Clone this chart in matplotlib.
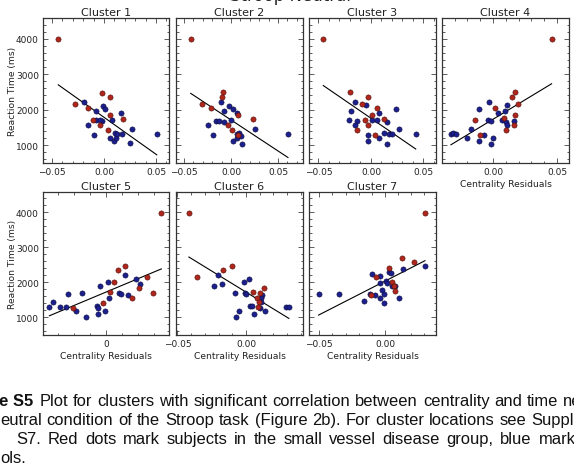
import matplotlib
matplotlib.use("Agg")
import matplotlib.pyplot as plt
from matplotlib.ticker import MultipleLocator, AutoMinorLocator, FuncFormatter

plt.rcParams["font.family"] = "DejaVu Sans"

# Centrality residuals (x), reaction time in ms (rt), svd: 1 = small vessel disease, 0 = control
c1_x = [-0.044, -0.028, -0.015, -0.019, -0.008, -0.015, -0.011, -0.008, -0.0035, -0.0096,
        -0.0019, -0.0019, -0.004, -0.0007, 0.001, 0.0058, 0.0055, 0.0077, 0.0036, 0.0183,
        0.016, 0.011, 0.0058, 0.0099, 0.012, 0.0128, 0.017, 0.027, 0.025, 0.0507]
c1_rt = [4000, 2160, 2040, 2220, 1950, 1570, 1700, 1700, 1560, 1290,
         2480, 1690, 1710, 2110, 2020, 2360, 1850, 1720, 1420, 1745,
         1905, 1340, 1200, 1110, 1210, 1300, 1310, 1450, 1050, 1310]
c1_svd = [1, 1, 1, 0, 0, 0, 1, 0, 1, 0, 1, 0, 0, 0, 0, 1, 1, 0, 1, 1, 0, 0, 0, 0, 0, 0, 0, 0, 0, 0]

c2_x = [-0.0429, -0.0305, -0.0216, -0.0248, -0.0195, -0.016, -0.0131, -0.0088, -0.0099, -0.0106,
        -0.0071, -0.0074, -0.0035, -0.0024, -0.0003, 0.0014, 0.0021, 0.006, 0.0071, 0.0025,
        0.006, 0.0067, 0.0088, 0.0103, 0.0114, 0.0071, 0.0231, 0.0252, 0.0606]
c2_rt = [4000, 2160, 2040, 1570, 1290, 1690, 1690, 2490, 2360, 2225,
         1960, 1650, 1560, 2110, 1710, 1420, 2020, 1905, 1850, 1120,
         1200, 1310, 1330, 1260, 1040, 1280, 1745, 1450, 1310]
c2_svd = [1, 1, 1, 0, 0, 0, 0, 1, 1, 0, 0, 0, 1, 0, 0, 1, 0, 0, 1, 0, 0, 0, 0, 0, 0, 1, 1, 0, 0]

c3_x = [-0.0454, -0.0203, -0.0025, -0.0083, -0.0155, -0.005, -0.0187, 0.006, 0.0076, 0.0238,
        0.0013, 0.0124, -0.0057, -0.021, -0.0136, 0.0007, 0.0057, -0.0029, -0.015, -0.013,
        0.0152, 0.0264, -0.0031, 0.0038, 0.0121, 0.0174, 0.0203, 0.0076, -0.0031, 0.0152, 0.0426]
c3_rt = [4000, 2490, 2360, 2160, 2225, 2120, 1960, 2040, 1905, 2020,
         1850, 1745, 1720, 1710, 1680, 1710, 1720, 1560, 1570, 1420,
         1640, 1450, 1290, 1290, 1330, 1310, 1310, 1200, 1120, 1040, 1310]
c3_svd = [1, 1, 1, 1, 0, 0, 0, 1, 0, 0, 1, 1, 1, 0, 0, 0, 0, 1, 0, 1, 0, 0, 0, 1, 0, 0, 0, 0, 0, 0, 0]

c4_x = [0.0458, 0.017, 0.0148, 0.0195, -0.0034, 0.0107, -0.0107, 0.0018, 0.0094, 0.0039,
        0.0083, 0.0174, -0.0141, -0.0036, -0.0016, 0.0068, 0.0099, 0.0107, 0.0167, 0.0167,
        0.0102, -0.0172, -0.0328, -0.031, -0.0292, -0.0099, -0.0068, -0.0201, -0.0002, -0.0109, -0.0013]
c4_rt = [4000, 2490, 2360, 2160, 2225, 2120, 2020, 2040, 1960, 1905,
         1755, 1850, 1720, 1720, 1680, 1710, 1640, 1570, 1690, 1560,
         1420, 1450, 1310, 1330, 1310, 1290, 1290, 1200, 1200, 1120, 1040]
c4_svd = [1, 1, 1, 1, 0, 0, 0, 1, 0, 0, 1, 1, 1, 0, 0, 0, 0, 0, 0, 1, 1, 0, 0, 0, 0, 1, 0, 0, 0, 0, 0]

c5_x = [0.0346, 0.0075, 0.0121, 0.0119, 0.0048, 0.0011, -0.0036, 0.0188, 0.0254, 0.0215,
        0.0204, 0.0027, 0.0021, 0.0081, 0.0092, 0.0135, 0.016, 0.0294, -0.0152, -0.0238,
        -0.0333, -0.0354, -0.0288, -0.0248, -0.0206, -0.0186, -0.0054, -0.0052, -0.0021, -0.005,
        -0.0004, -0.0125]
c5_rt = [3990, 2340, 2470, 2205, 2020, 2000, 1895, 2110, 2150, 1945,
         1840, 1735, 1545, 1690, 1680, 1640, 1545, 1690, 1700, 1680,
         1425, 1285, 1290, 1290, 1270, 1190, 1330, 1270, 1405, 1100,
         1180, 1015]
c5_svd = [1, 1, 1, 0, 1, 0, 0, 0, 1, 0, 1, 1, 0, 0, 0, 0, 1, 1, 0, 0, 0, 0, 0, 0, 1, 0, 0, 0, 1, 0, 0, 0]

c6_x = [-0.0416, -0.0358, -0.0167, -0.0101, -0.0201, 0.0019, -0.0014, -0.0177, -0.0232, -0.0083,
        -0.0005, 0.0002, 0.0048, 0.0133, 0.0104, 0.0118, 0.0111, 0.008, 0.0091, 0.0109,
        0.0026, 0.0046, 0.0089, 0.0101, 0.014, -0.0049, 0.0055, -0.007, 0.0292, 0.0312]
c6_rt = [3990, 2150, 2340, 2470, 2205, 2110, 2020, 1950, 1895, 1690,
         1710, 1680, 1735, 1840, 1690, 1640, 1545, 1545, 1425, 1440,
         1330, 1330, 1300, 1270, 1180, 1180, 1100, 1015, 1290, 1290]
c6_svd = [1, 1, 1, 1, 0, 0, 0, 0, 0, 0, 0, 0, 1, 1, 1, 0, 0, 1, 1, 0, 0, 0, 1, 0, 0, 0, 0, 0, 0, 0]

c7_x = [0.0304, 0.0132, 0.0218, 0.0304, 0.0135, 0.003, 0.003, 0.0043, -0.0101, -0.0071,
        -0.004, -0.0038, 0.0008, 0.0018, 0.0053, 0.0053, 0.0068, 0.0074, 0.0076, -0.0021,
        -0.0008, -0.0116, -0.0104, -0.0078, -0.0038, 0.0109, -0.0162, -0.001, -0.0505, -0.0352]
c7_rt = [3990, 2705, 2590, 2470, 2395, 2420, 2290, 2270, 2235, 2140,
         2190, 1990, 2045, 1990, 2020, 1895, 1885, 1885, 1755, 1775,
         1660, 1680, 1640, 1640, 1555, 1555, 1480, 1415, 1660, 1660]
c7_svd = [1, 1, 1, 0, 0, 1, 0, 0, 0, 1, 0, 0, 0, 0, 1, 0, 1, 0, 1, 0, 0, 0, 1, 0, 0, 0, 0, 0, 0, 0]

# Regression line: reaction time at the smallest and at the largest residual
c1_fit = [2700, 727]
c2_fit = [2460, 650]
c3_fit = [2680, 890]
c4_fit = [1010, 2730]
c5_fit = [1045, 2385]
c6_fit = [2725, 970]
c7_fit = [1065, 2620]

titles = ["Cluster 1", "Cluster 2", "Cluster 3", "Cluster 4", "Cluster 5", "Cluster 6", "Cluster 7"]
suptitle = "Stroop Neutral"
xlabel = "Centrality Residuals"
ylabel = "Reaction Time (ms)"

# Caption lines as they sit in the (cropped) page
cap_bold = "Figure S5"
cap_line1 = "Plot for clusters with significant correlation between centrality and time needed"
cap_line2 = "eutral condition of the Stroop task (Figure 2b). For cluster locations see Supplementary"
cap_line3 = "S7. Red dots mark subjects in the small vessel disease group, blue marks"
cap_line4 = "ols."

# Figure, sized in pixels
W, H = 574, 464
fig = plt.figure(figsize=(W / 100, H / 100), dpi=100)


def px_rect(l, t, r, b):
    return [l / W, 1 - b / H, (r - l) / W, (b - t) / H]


def res_fmt(v, pos):
    return ("%.2f" % (round(v, 4) + 0.0)).replace("-", "\u2212")


def res_fmt_short(v, pos):
    return ("%g" % (round(v, 4) + 0.0)).replace("-", "\u2212")


RED = "#b0261c"
BLUE = "#1c1f8e"
TXT = "#222222"

cols = [(43, 169), (176, 303), (309, 436), (442, 569)]
row1 = (19, 164)
row2 = (193, 336)

panels = [
    (c1_x, c1_rt, c1_svd, c1_fit, cols[0], row1, (-0.0587, 0.0625), res_fmt),
    (c2_x, c2_rt, c2_svd, c2_fit, cols[1], row1, (-0.0585, 0.0766), res_fmt),
    (c3_x, c3_rt, c3_svd, c3_fit, cols[2], row1, (-0.059, 0.0619), res_fmt),
    (c4_x, c4_rt, c4_svd, c4_fit, cols[3], row1, (-0.0398, 0.0594), res_fmt),
    (c5_x, c5_rt, c5_svd, c5_fit, cols[0], row2, (-0.0394, 0.0394), res_fmt_short),
    (c6_x, c6_rt, c6_svd, c6_fit, cols[1], row2, (-0.051, 0.0415), res_fmt),
    (c7_x, c7_rt, c7_svd, c7_fit, cols[2], row2, (-0.0578, 0.0388), res_fmt),
]

for i, (xs, rts, svd, fit, col, row, xlim, fmt) in enumerate(panels):
    ax = fig.add_axes(px_rect(col[0], row[0], col[1], row[1]))
    ctrl_x = [x for x, g in zip(xs, svd) if g == 0]
    ctrl_y = [y for y, g in zip(rts, svd) if g == 0]
    svd_x = [x for x, g in zip(xs, svd) if g == 1]
    svd_y = [y for y, g in zip(rts, svd) if g == 1]
    ax.scatter(ctrl_x, ctrl_y, s=14, c=BLUE, edgecolors="#0b0b3a", linewidths=0.4, zorder=3)
    ax.scatter(svd_x, svd_y, s=14, c=RED, edgecolors="#4a0c08", linewidths=0.4, zorder=3)
    ax.plot([min(xs), max(xs)], fit, color="black", lw=0.8, zorder=2)

    ax.set_xlim(*xlim)
    ax.set_ylim(495, 4585)
    ax.xaxis.set_major_locator(MultipleLocator(0.05))
    ax.xaxis.set_minor_locator(MultipleLocator(0.01))
    ax.xaxis.set_major_formatter(FuncFormatter(fmt))
    ax.yaxis.set_major_locator(MultipleLocator(1000))
    ax.yaxis.set_minor_locator(AutoMinorLocator(5))
    ax.tick_params(which="both", direction="in", top=True, right=True,
                   labelsize=6.5, labelcolor=TXT, color="#444444", width=0.6, pad=3)
    ax.tick_params(which="major", length=3.5)
    ax.tick_params(which="minor", length=1.8)
    for sp in ax.spines.values():
        sp.set_linewidth(0.9)
        sp.set_color("#333333")

    ax.set_title(titles[i], fontsize=8, color=TXT, pad=2.5)
    if col == cols[0]:
        ax.set_ylabel(ylabel, fontsize=6.6, color=TXT)
        ax.yaxis.set_label_coords(-(col[0] - 17) / (col[1] - col[0]), 0.5)
    else:
        ax.tick_params(labelleft=False)
    if i >= 3:
        ax.set_xlabel(xlabel, fontsize=6.6, color=TXT, labelpad=2)

# Suptitle, mostly cut at the top edge
fig.text(290 / W, 1 - 1.0 / H, suptitle, fontsize=12, color=TXT, ha="center", va="baseline")

# Caption (cropped on both sides, justified text)
cap = {"family": "Liberation Sans", "size": 11.9, "color": "#111111"}
renderer = fig.canvas.get_renderer()


def text_width(s, **kw):
    t = fig.text(0, 0, s, **kw)
    wd = t.get_window_extent(renderer).width
    t.remove()
    return wd


def justify(line, y, x0, k, xk):
    # spread the words so that word k starts at xk
    words = line.split()
    widths = [text_width(w, **cap) for w in words]
    gap = (xk - x0 - sum(widths[:k])) / k
    xpos = x0
    for w, wd in zip(words, widths):
        fig.text(xpos / W, 1 - y / H, w, ha="left", va="baseline", **cap)
        xpos += wd + gap


fig.text(33.5 / W, 1 - 406.5 / H, cap_bold, ha="right", va="baseline", weight="bold", **cap)
justify(cap_line1, 406.5, 39.5, 9, 527)
justify(cap_line2, 425.5, 0, 12, 531.5)
justify(cap_line3, 444.5, 16.5, 12, 575.5 - text_width("mark", **cap))
fig.text(0 / W, 1 - 463 / H, cap_line4, ha="left", va="baseline", **cap)

fig.savefig("out.png", dpi=100)
